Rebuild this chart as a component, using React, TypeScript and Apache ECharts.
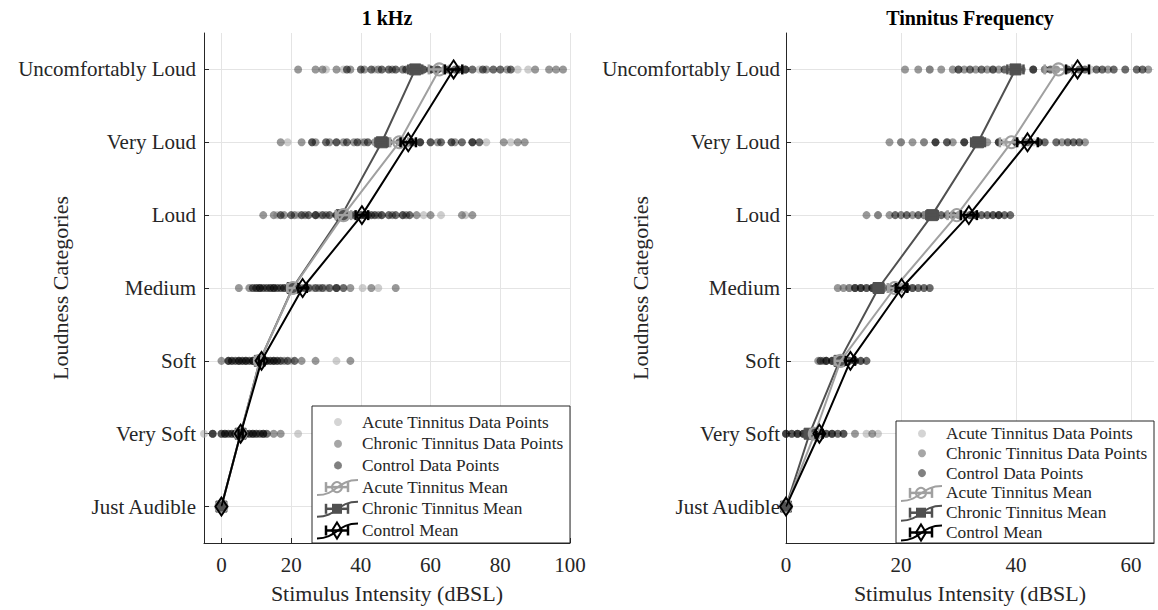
import React, { useEffect, useRef } from 'react';
import * as echarts from 'echarts';

const categories = ['Just Audible', 'Very Soft', 'Soft', 'Medium', 'Loud', 'Very Loud', 'Uncomfortably Loud'];
const catTicks = [0, 1, 2, 3, 4, 5, 6];
const xTicksLeft = [0, 20, 40, 60, 80, 100];
const xTicksRight = [0, 20, 40, 60];
const panelTitles = ['1 kHz', 'Tinnitus Frequency'];
const legendLabels = [
  'Acute Tinnitus Data Points',
  'Chronic Tinnitus Data Points',
  'Control Data Points',
  'Acute Tinnitus Mean',
  'Chronic Tinnitus Mean',
  'Control Mean',
];

// ---- 1 kHz: means and standard errors per category (Just Audible -> Uncomfortably Loud)
const khzAcuteMean = [0, 5.5, 11, 20.5, 35, 51, 62.5];
const khzChronicMean = [0, 5.5, 11, 20.4, 34.5, 46, 55.6];
const khzControlMean = [0, 5.5, 11.5, 23.3, 40.3, 53.6, 66.6];
const khzAcuteErr = [0, 0.8, 1.2, 1.6, 2.2, 2.6, 3.0];
const khzChronicErr = [0, 0.6, 0.8, 1.0, 1.4, 1.8, 2.0];
const khzControlErr = [0, 0.6, 0.8, 1.2, 1.8, 2.2, 2.5];

// ---- 1 kHz: individual data points per category
const khzAcutePoints = [
  [0, 0, 0],
  [-5, 0, 3, 5, 8, 10, 22],
  [3, 6, 9, 11, 14, 16, 20, 33],
  [10, 14, 18, 22, 26, 30, 40.5, 45],
  [16, 22, 28, 34, 40, 46, 52, 58, 63, 70],
  [19, 26, 33, 40, 47, 54, 60, 66, 76, 83],
  [30, 35, 44, 52, 58, 62, 68, 74, 85, 88],
];
const khzChronicPoints = [
  [0, 0, 0],
  [-2.5, 1, 4, 6, 9, 12, 15, 17],
  [0, 2, 5, 7, 9, 11, 13, 15, 18, 23, 27, 37],
  [5, 8, 11, 15, 19, 23, 28, 33, 37, 43, 50],
  [12, 15, 18, 21, 24, 27, 30, 33, 37, 41, 45, 49, 53, 56, 60, 69, 72],
  [17, 23, 27, 31, 35, 38, 41, 44, 48, 52, 57, 62, 67, 72, 81, 85, 87],
  [22, 27, 29, 33, 37, 41, 45, 49, 52, 56, 60, 64, 70, 76, 82, 90, 94, 96, 98],
];
const khzControlPoints = [
  [0, 0, 0],
  [-2.5, 0, 1, 2, 3, 4, 5, 6, 7, 8, 9, 10, 11, 12, 13],
  [2, 3, 4, 5, 6, 7, 8, 9, 10, 11, 12, 13, 14, 15, 16, 17, 19, 21],
  [9, 10, 11, 12, 13, 14, 15, 16, 17, 18, 20, 21, 22, 24, 25, 27, 29, 31, 33, 35],
  [17, 20, 23, 25, 27, 29, 31, 33, 35, 38, 40, 41, 42, 43, 44, 46, 48, 50, 52, 54],
  [26, 30, 33, 36, 39, 42, 45, 48, 51, 54, 55, 57, 60, 63, 66, 69, 72, 74],
  [36, 40, 43, 46, 48, 50, 53, 55, 58, 60, 62, 65, 67, 68, 70, 72, 75, 78, 80, 83],
];

// ---- Tinnitus frequency: means and standard errors
const tfAcuteMean = [0, 5, 9.5, 18.9, 29.7, 39.2, 47.4];
const tfChronicMean = [0, 4.1, 9.3, 16.1, 25.4, 33.4, 39.9];
const tfControlMean = [0, 5.8, 11.2, 20.1, 31.8, 42, 50.7];
const tfAcuteErr = [0, 0.8, 1.0, 1.2, 1.6, 2.0, 2.4];
const tfChronicErr = [0, 0.5, 0.6, 0.8, 1.0, 1.2, 1.4];
const tfControlErr = [0, 0.6, 0.8, 1.0, 1.4, 1.8, 2.0];

// ---- Tinnitus frequency: individual data points
const tfAcutePoints = [
  [0, 0],
  [1, 4, 7, 10, 14, 16],
  [7, 9, 11, 13],
  [11, 14, 17, 20, 22],
  [16, 20, 24, 28, 32, 36],
  [20, 24, 28, 33, 38, 43],
  [25, 30, 36, 41, 45, 49, 53],
];
const tfChronicPoints = [
  [0, 0],
  [0, 2, 3, 4, 5, 6, 8, 12, 15],
  [5.6, 6.5, 7, 8, 9, 10, 12],
  [9, 10, 11, 12, 13, 15, 17, 19, 21],
  [14, 16, 18, 20, 22, 24, 26, 28, 30, 33, 37],
  [18, 20, 22, 24, 26, 29, 31, 33, 35, 37, 40, 44, 48, 52],
  [20.7, 23, 25, 27, 29, 31, 33, 35, 37, 39, 41, 43, 45, 47, 56, 63],
];
const tfControlPoints = [
  [0, 0, 0],
  [0, 1, 2, 3, 4, 5, 6, 7, 8, 9, 10],
  [6, 7, 8, 9, 10, 11, 12, 13, 14],
  [12, 13, 14, 15, 16, 18, 19, 20, 21, 22, 23, 24, 25],
  [19, 21, 23, 25, 27, 29, 31, 32, 33, 34, 35, 36, 37, 38, 39],
  [26, 28, 31, 34, 37, 40, 42, 44, 45, 47, 49, 50, 51],
  [30, 32, 34, 36, 38, 40, 43, 46, 49, 51, 52, 54, 55, 57, 59, 61, 62],
];

const FONT = 'Liberation Serif';
const TXT = '#262626';
const ACUTE = '#a0a0a0';
const CHRONIC = '#505050';
const CONTROL = '#000000';

const toPoints = (rows: number[][]) => rows.flatMap((vals, i) => vals.map((v) => [v, i]));
const toLine = (m: number[]) => m.map((v, i) => [v, i]);
const toErr = (m: number[], e: number[]) => m.map((v, i) => [v, i, e[i]]);

const errRender = (color: string, lw: number) => (params: any, api: any) => {
  const x = api.value(0);
  const y = api.value(1);
  const e = api.value(2);
  if (!e) return { type: 'group', children: [] };
  const p1 = api.coord([x - e, y]);
  const p2 = api.coord([x + e, y]);
  const h = 5;
  const st = { stroke: color, lineWidth: lw };
  return {
    type: 'group',
    children: [
      { type: 'line', shape: { x1: p1[0], y1: p1[1], x2: p2[0], y2: p2[1] }, style: st },
      { type: 'line', shape: { x1: p1[0], y1: p1[1] - h, x2: p1[0], y2: p1[1] + h }, style: st },
      { type: 'line', shape: { x1: p2[0], y1: p2[1] - h, x2: p2[0], y2: p2[1] + h }, style: st },
    ],
  };
};

function panelSeries(idx: number, acP: number[][], chP: number[][], coP: number[][],
  acM: number[], chM: number[], coM: number[], acE: number[], chE: number[], coE: number[]) {
  const base = { xAxisIndex: idx, yAxisIndex: idx };
  const scat = (name: string, color: string, rows: number[][]) => ({
    ...base, type: 'scatter', name, data: toPoints(rows), symbol: 'circle', symbolSize: 8,
    itemStyle: { color, opacity: 0.58 }, z: 2,
  });
  const line = (name: string, color: string, m: number[], symbol: string, size: any, filled: boolean, z: number) => ({
    ...base, type: 'line', name, data: toLine(m), symbol, symbolSize: size, showSymbol: true,
    lineStyle: { color, width: 2 },
    itemStyle: filled ? { color, borderColor: color, borderWidth: 1 } : { color: 'rgba(255,255,255,0)', borderColor: color, borderWidth: 2 },
    z,
  });
  const err = (name: string, color: string, m: number[], e: number[], z: number) => ({
    ...base, type: 'custom', name, data: toErr(m, e), renderItem: errRender(color, 2.5),
    encode: { x: 0, y: 1 }, z,
  });
  return [
    scat(legendLabels[0], '#a8a8a8', acP),
    scat(legendLabels[1], '#4d4d4d', chP),
    scat(legendLabels[2], '#000000', coP),
    line(legendLabels[4], CHRONIC, chM, 'rect', 11, true, 4),
    err(legendLabels[4], CHRONIC, chM, chE, 5),
    line(legendLabels[3], ACUTE, acM, 'circle', 12, false, 6),
    err(legendLabels[3], ACUTE, acM, acE, 7),
    line(legendLabels[5], CONTROL, coM, 'diamond', [12, 18], false, 8),
    err(legendLabels[5], CONTROL, coM, coE, 9),
  ];
}

function legendGraphic(bx: number, by: number, bw: number, bh: number, row0: number, step: number) {
  const dotX = bx + 26;
  const textX = bx + 50;
  const els: any[] = [
    { type: 'rect', shape: { x: bx, y: by, width: bw, height: bh }, style: { fill: '#ffffff', stroke: '#262626', lineWidth: 1 }, z: 100 },
  ];
  const dotFills = ['#d4d4d4', '#a6a6a6', '#808080'];
  const meanColors = [ACUTE, CHRONIC, CONTROL];
  legendLabels.forEach((label, i) => {
    const y = row0 + step * i;
    els.push({ type: 'text', x: textX, y, style: { text: label, fontFamily: FONT, fontSize: 17.3, fill: TXT, verticalAlign: 'middle', align: 'left' }, z: 101 });
    if (i < 3) {
      els.push({ type: 'circle', shape: { cx: dotX, cy: y, r: 4 }, style: { fill: dotFills[i] }, z: 101 });
    } else {
      const c = meanColors[i - 3];
      const cx = dotX - 1;
      els.push({ type: 'bezierCurve', shape: { x1: bx + 5, y1: y + 8, x2: bx + 46, y2: y - 7, cpx1: cx, cpy1: y + 8, cpx2: cx, cpy2: y - 7 }, style: { stroke: c, lineWidth: 2, fill: 'none' }, z: 101 });
      const st = { stroke: c, lineWidth: 2.5 };
      els.push({ type: 'line', shape: { x1: cx - 11, y1: y, x2: cx + 11, y2: y }, style: st, z: 102 });
      els.push({ type: 'line', shape: { x1: cx - 11, y1: y - 5, x2: cx - 11, y2: y + 5 }, style: st, z: 102 });
      els.push({ type: 'line', shape: { x1: cx + 11, y1: y - 5, x2: cx + 11, y2: y + 5 }, style: st, z: 102 });
      if (i === 3) {
        els.push({ type: 'circle', shape: { cx, cy: y, r: 5 }, style: { fill: 'none', stroke: c, lineWidth: 2 }, z: 103 });
      } else if (i === 4) {
        els.push({ type: 'rect', shape: { x: cx - 5, y: y - 5, width: 10, height: 10 }, style: { fill: c }, z: 103 });
      } else {
        els.push({ type: 'polygon', shape: { points: [[cx, y - 8], [cx + 5, y], [cx, y + 8], [cx - 5, y]] }, style: { fill: 'none', stroke: c, lineWidth: 2 }, z: 103 });
      }
    }
  });
  return els;
}

function xAxis(idx: number, min: number, max: number, ticks: number[]) {
  return {
    type: 'value', gridIndex: idx, min, max,
    axisLine: { show: true, onZero: false, lineStyle: { color: TXT, width: 1 } },
    axisTick: { show: true, inside: true, length: 5, customValues: ticks, lineStyle: { color: TXT } },
    axisLabel: { customValues: ticks, fontFamily: FONT, fontSize: 21, color: TXT, margin: 11 },
    splitLine: { show: true, lineStyle: { color: '#e4e4e4', width: 1 } },
    name: 'Stimulus Intensity (dBSL)', nameLocation: 'middle', nameGap: 39, nameMoveOverlap: false,
    nameTextStyle: { fontFamily: FONT, fontSize: 22, color: TXT },
  };
}

function yAxis(idx: number, margin: number, gap: number) {
  return {
    type: 'value', gridIndex: idx, min: -0.5, max: 6.5,
    axisLine: { show: true, onZero: false, lineStyle: { color: TXT, width: 1 } },
    axisTick: { show: true, inside: true, length: 5, customValues: catTicks, lineStyle: { color: TXT } },
    axisLabel: {
      customValues: catTicks, formatter: (v: number) => categories[Math.round(v)],
      fontFamily: FONT, fontSize: 21, color: TXT, margin,
    },
    splitLine: { show: true, lineStyle: { color: '#e4e4e4', width: 1 } },
    name: 'Loudness Categories', nameLocation: 'middle', nameGap: gap, nameMoveOverlap: false,
    nameTextStyle: { fontFamily: FONT, fontSize: 22, color: TXT },
  };
}

export default function App() {
  const ref = useRef<HTMLDivElement>(null);
  useEffect(() => {
    if (!ref.current) return;
    const chart = echarts.init(ref.current, undefined, { renderer: 'svg' });
    chart.setOption({
      animation: false,
      backgroundColor: '#ffffff',
      grid: [
        { left: 204, top: 33, width: 366, height: 510, outerBoundsMode: 'none' },
        { left: 786, top: 33, width: 368, height: 510, outerBoundsMode: 'none' },
      ],
      xAxis: [xAxis(0, -5, 100, xTicksLeft), xAxis(1, 0, 64, xTicksRight)],
      yAxis: [yAxis(0, 8, 133), yAxis(1, 6, 135)],
      series: [
        ...panelSeries(0, khzAcutePoints, khzChronicPoints, khzControlPoints, khzAcuteMean, khzChronicMean, khzControlMean, khzAcuteErr, khzChronicErr, khzControlErr),
        ...panelSeries(1, tfAcutePoints, tfChronicPoints, tfControlPoints, tfAcuteMean, tfChronicMean, tfControlMean, tfAcuteErr, tfChronicErr, tfControlErr),
      ],
      graphic: [
        { type: 'text', x: 387, y: 18, style: { text: panelTitles[0], fontFamily: FONT, fontSize: 20, fontWeight: 'bold', fill: '#000', align: 'center', verticalAlign: 'middle' }, z: 100 },
        { type: 'text', x: 970, y: 18, style: { text: panelTitles[1], fontFamily: FONT, fontSize: 20, fontWeight: 'bold', fill: '#000', align: 'center', verticalAlign: 'middle' }, z: 100 },
        ...legendGraphic(312, 406, 258, 137, 422, 21.7),
        ...legendGraphic(896, 421, 258, 122, 433.5, 19.8),
      ],
    });
    return () => chart.dispose();
  }, []);
  return <div ref={ref} style={{ position: 'absolute', left: 0, top: 0, width: 1158, height: 610 }} />;
}
